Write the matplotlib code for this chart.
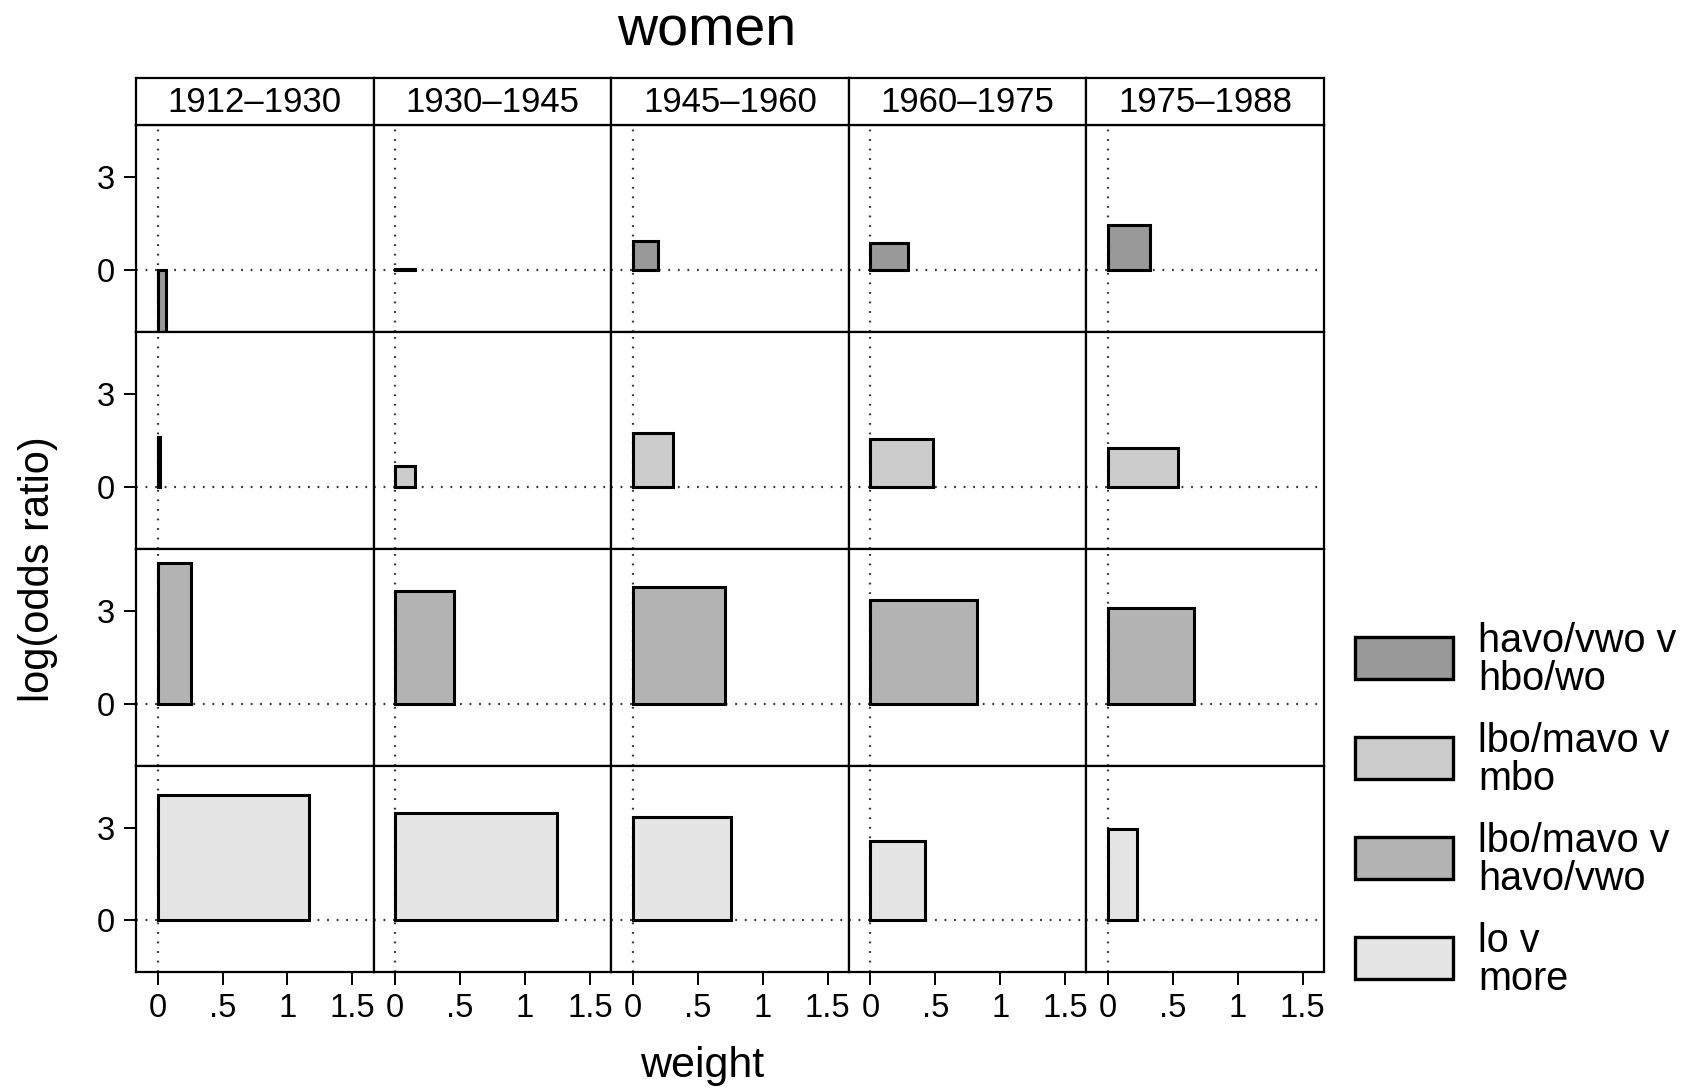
import matplotlib
matplotlib.use('Agg')
import matplotlib.pyplot as plt
from matplotlib.patches import Rectangle

plt.rcParams['font.family'] = ['Liberation Sans', 'DejaVu Sans']

# data
periods = ['1912–1930', '1930–1945', '1945–1960', '1960–1975', '1975–1988']
contrasts = ['havo/vwo v\nhbo/wo', 'lbo/mavo v\nmbo', 'lbo/mavo v\nhavo/vwo', 'lo v\nmore']
fills = ['#999999', '#cccccc', '#b3b3b3', '#e5e5e5']

havo_hbo_lor = [-2.2, 0.03, 0.95, 0.88, 1.45]
lbo_mbo_lor = [1.62, 0.67, 1.74, 1.56, 1.26]
lbo_havo_lor = [4.55, 3.64, 3.78, 3.35, 3.10]
lo_more_lor = [4.05, 3.46, 3.35, 2.58, 2.96]

havo_hbo_w = [0.065, 0.15, 0.19, 0.29, 0.32]
lbo_mbo_w = [0.02, 0.15, 0.31, 0.48, 0.54]
lbo_havo_w = [0.26, 0.45, 0.71, 0.82, 0.66]
lo_more_w = [1.17, 1.25, 0.76, 0.42, 0.22]

xticks = [0, 0.5, 1, 1.5]
xticklabels = ['0', '.5', '1', '1.5']
yticks = [0, 3]

lors = [havo_hbo_lor, lbo_mbo_lor, lbo_havo_lor, lo_more_lor]
weights = [havo_hbo_w, lbo_mbo_w, lbo_havo_w, lo_more_w]

W, H = 1698, 1088
fig = plt.figure(figsize=(W / 100, H / 100), dpi=100)

# layout in pixels
left, right = 136, 1324
col_w = (right - left) / 5
row_edges = [125, 332, 549, 766, 972]
ylims = [(-2, 4.68), (-2, 5), (-2, 5), (-1.68, 5)]
strip_top = 78


def fx(px):
    return px / W


def fy(py):
    return 1 - py / H


for r in range(4):
    for c in range(5):
        x0 = left + c * col_w
        ax = fig.add_axes([fx(x0), fy(row_edges[r + 1]), fx(col_w),
                           (row_edges[r + 1] - row_edges[r]) / H])
        ax.set_xlim(-0.167, 1.664)
        ax.set_ylim(*ylims[r])
        # dotted reference lines at zero
        ax.axhline(0, color='#333333', lw=1.6, ls=(0, (0.8, 3.5)), zorder=1)
        ax.axvline(0, color='#333333', lw=1.6, ls=(0, (0.8, 3.5)), zorder=1)
        ax.bar(0, lors[r][c], width=weights[r][c], align='edge',
               color=fills[r], edgecolor='black', linewidth=2.2, zorder=2)
        for s in ax.spines.values():
            s.set_linewidth(1.6)
            s.set_color('black')
        ax.tick_params(direction='out', length=9, width=1.4, labelsize=23.5, pad=6)
        ax.set_xticks(xticks)
        ax.set_yticks(yticks)
        if r == 3:
            ax.set_xticklabels(xticklabels)
        else:
            ax.tick_params(axis='x', bottom=False, labelbottom=False)
        if c == 0:
            ax.set_yticklabels([str(t) for t in yticks])
        else:
            ax.tick_params(axis='y', left=False, labelleft=False)

# strips with period labels
for c, p in enumerate(periods):
    x0 = left + c * col_w
    sax = fig.add_axes([fx(x0), fy(row_edges[0]), fx(col_w),
                        (row_edges[0] - strip_top) / H])
    sax.set_xticks([])
    sax.set_yticks([])
    for s in sax.spines.values():
        s.set_linewidth(1.6)
    sax.text(0.5, 0.47, p, ha='center', va='center', fontsize=25,
             transform=sax.transAxes)

fig.text(fx(707), fy(45), 'women', ha='center', va='baseline', fontsize=40)
fig.text(fx(702), fy(1077), 'weight', ha='center', va='baseline', fontsize=31)
fig.text(fx(38), fy(569), 'log(odds ratio)', ha='center', va='center',
         rotation=90, fontsize=30)

# legend
box_tops = [637, 737, 837, 937]
for lab, col, bt in zip(contrasts, fills, box_tops):
    fig.add_artist(Rectangle((fx(1355), fy(bt + 42)), fx(98), 42 / H,
                             transform=fig.transFigure, facecolor=col,
                             edgecolor='black', linewidth=2.4))
    fig.text(fx(1478), fy(bt + 23), lab, ha='left', va='center',
             fontsize=28.5, linespacing=1.0)

fig.savefig('out.png', dpi=100)
